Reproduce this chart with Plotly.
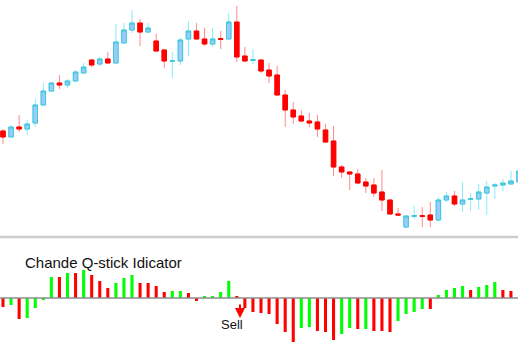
import plotly.graph_objects as go

# ---- data (price units) ----
opens  = [119,113,123,121,127,145,159,167,165,169,177,190,186,191,187,207,220,227,218,209,200,188.7,189,211,219,211,206,211.3,211,228,194,189.7,
          190,180,175,155,140,134,129,128,120,109,83,78,76,68,65,58,50,36,23,33.7,34.3,35,30,50,54,46,50.7,51,57,64,65,66,68]
closes = [113,123,121,126,145,159,167,165,169,178,183,185,191,187,208,220,227,218,222,199,189,189.3,210,219,211,206,211,210.7,228,193,189,190.3,
          179,174,155,140,133,129,127,121,108,83,78,76,67,64,57,50,36,35,34,34.3,33.7,30,50,54,46,50,51.3,58,63,65,67,69,79]
highs  = [121,125,135,130,151,167,168,175,171,180,187,191,193,198,226,227,240,231,227,216,201,198,212,229,227,222,222,219,237,244,203,201,
          190,187,184,160,148,140,137,135,126,124,85,79,81,72,72,80,50,42,35,44,43,48,53,58,59,68,57,66,69,67,71,79,85]
lows   = [106,113,118,115,123,144,158,161,162,168,177,183,184,187,187,207,217,204,218,198,182,172,185,194,211,204,203,201,211,188,188,186,
          177,167,155,123,126,128,123,113,107,74,72,60,66,57,53,39,36,35,22,31,23,23,29,48,44,38,39,40,35,51,59,66,68]

qstick = [-9,-7,-21,-20,-10,-2,21,21,25,25,28,23,17,10,15,20,23,15,15,12,6,7,7,5,-3,2,2,6,17,2,-10,-14,
          -15,-16,-26,-34,-44,-30,-29,-33,-34,-42,-36,-30,-31,-31,-33,-33,-34,-23,-16,-14,-11,-11,3,8,10,12,8,11,13,16,8,7,None]
q_colors = ["r","g","r","g","g","g","g","r","g","r","g","r","r","r","g","g","g","r","r","r","r","g","g","r","r","g","g","g","g","r","r","r",
            "r","r","r","r","r","g","g","r","r","r","g","g","r","g","r","r","r","g","g","g","g","r","g","g","g","g","r","g","g","g","r","r","r"]

title_text = "Chande Q-stick Idicator"
sell_text = "Sell"

idx = list(range(len(opens)))
body_hi = [max(o, c) for o, c in zip(opens, closes)]
body_lo = [min(o, c) for o, c in zip(opens, closes)]
cmap = {"g": "#00FF00", "r": "#FF0000"}

W, H = 518, 351
fig = go.Figure()

# wicks
fig.add_trace(go.Candlestick(
    x=idx, open=opens, high=highs, low=lows, close=closes,
    increasing=dict(line=dict(color="#86ECFA", width=1), fillcolor="#99CCFF"),
    decreasing=dict(line=dict(color="#FF8A8A", width=1), fillcolor="#FF0000"),
    showlegend=False, hoverinfo="skip", xaxis="x", yaxis="y"))
# bodies
fig.add_trace(go.Candlestick(
    x=idx, open=opens, high=body_hi, low=body_lo, close=closes,
    increasing=dict(line=dict(color="#3EC6D8", width=1), fillcolor="#99CCF8"),
    decreasing=dict(line=dict(color="#FF0000", width=1), fillcolor="#FF0000"),
    showlegend=False, hoverinfo="skip", xaxis="x", yaxis="y"))

fig.add_trace(go.Bar(
    x=idx, y=qstick, marker=dict(color=[cmap[c] for c in q_colors], line=dict(width=0)),
    showlegend=False, hoverinfo="skip", xaxis="x", yaxis="y2"))

sp = 8.0625
fig.update_layout(
    width=W, height=H, margin=dict(l=0, r=0, t=0, b=0),
    paper_bgcolor="white", plot_bgcolor="white",
    boxgap=0.2, bargap=0.62,
    xaxis=dict(range=[-3 / sp, (W - 3) / sp], visible=False, rangeslider=dict(visible=False),
               anchor="y2", fixedrange=True),
    yaxis=dict(domain=[115 / H, 1], range=[14, 250], visible=False),
    yaxis2=dict(domain=[0, 113 / H], range=[-53, 60], visible=False),
    shapes=[
        dict(type="line", xref="paper", yref="paper", x0=0, x1=1, y0=(H - 237) / H, y1=(H - 237) / H,
             line=dict(color="#CCCCCC", width=2.5)),
        dict(type="line", xref="paper", yref="y2", x0=0, x1=1, y0=0, y1=0,
             line=dict(color="#8C8C8C", width=1.5), layer="above"),
    ],
    annotations=[
        dict(text=title_text, xref="paper", yref="paper", x=23 / W, y=(H - 262) / H,
             xanchor="left", yanchor="middle", showarrow=False,
             font=dict(family="Liberation Sans, Arial", size=15, color="#111111")),
        dict(text=sell_text, xref="paper", yref="paper", x=219 / W, y=(H - 324.5) / H,
             xanchor="left", yanchor="middle", showarrow=False,
             font=dict(family="Liberation Sans, Arial", size=13, color="#111111")),
        dict(text="", xref="paper", yref="paper", x=240 / W, y=(H - 318) / H,
             ax=0, ay=-15, axref="pixel", ayref="pixel", showarrow=True,
             arrowhead=2, arrowsize=1, arrowwidth=2, arrowcolor="#FF0000"),
    ],
)

fig.write_html("out.html")
